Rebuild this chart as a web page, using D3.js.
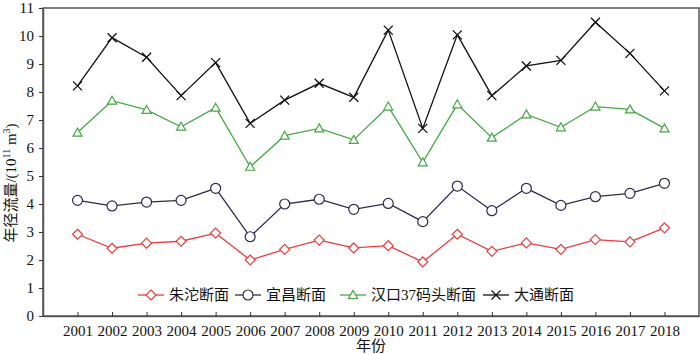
<!DOCTYPE html>
<html>
<head>
<meta charset="utf-8">
<script src="https://cdn.jsdelivr.net/npm/d3@7"></script>
<style>
  body { margin: 0; background: #fff; }
  svg text { font-family: "Liberation Serif", "Times New Roman", Times, "DejaVu Serif", "Noto Sans CJK SC", serif !important; }
</style>
</head>
<body>
<div class="div_chart"></div>
<script>
const years = [2001, 2002, 2003, 2004, 2005, 2006, 2007, 2008, 2009, 2010, 2011, 2012, 2013, 2014, 2015, 2016, 2017, 2018];
const zhutuo = [2.92, 2.42, 2.60, 2.67, 2.96, 2.00, 2.38, 2.71, 2.43, 2.51, 1.93, 2.92, 2.31, 2.61, 2.38, 2.73, 2.65, 3.15];
const yichang = [4.13, 3.93, 4.07, 4.13, 4.56, 2.83, 4.00, 4.17, 3.81, 4.02, 3.37, 4.64, 3.76, 4.56, 3.95, 4.26, 4.38, 4.74];
const hankou = [6.55, 7.69, 7.36, 6.76, 7.44, 5.33, 6.44, 6.70, 6.29, 7.48, 5.49, 7.56, 6.37, 7.20, 6.74, 7.48, 7.38, 6.70];
const datong = [8.22, 9.94, 9.24, 7.87, 9.05, 6.88, 7.71, 8.31, 7.81, 10.21, 6.70, 10.04, 7.87, 8.93, 9.13, 10.49, 9.38, 8.04];
const yTicks = [0, 1, 2, 3, 4, 5, 6, 7, 8, 9, 10, 11];

const series = [
  {name: '朱沱断面', values: zhutuo, color: '#ee3b3b', marker: 'diamond'},
  {name: '宜昌断面', values: yichang, color: '#2e2b4d', marker: 'circle'},
  {name: '汉口37码头断面', values: hankou, color: '#44a844', marker: 'triangle'},
  {name: '大通断面', values: datong, color: '#111111', marker: 'cross'}
];

const width = 700, height = 354;
const margin = {top: 8, right: 1, bottom: 38, left: 43};

const svg = d3.select('.div_chart')
  .append('svg')
    .attr('width', width)
    .attr('height', height);

const x = d3.scaleLinear()
  .domain([2000, 2019])
  .range([margin.left, width - margin.right]);

const y = d3.scaleLinear()
  .domain([0, 11])
  .range([height - margin.bottom, margin.top]);

// frame (top / right)
svg.append('rect')
  .attr('x', margin.left)
  .attr('y', margin.top)
  .attr('width', width - margin.right - margin.left)
  .attr('height', height - margin.bottom - margin.top)
  .attr('fill', 'none')
  .attr('stroke', '#555')
  .attr('stroke-width', 1.5);

const xAxis = g => g
  .attr('transform', `translate(0, ${height - margin.bottom})`)
  .call(d3.axisBottom(x).tickValues(years).tickFormat(d3.format('d')).tickSizeInner(-4).tickSizeOuter(0).tickPadding(9))
  .call(g => g.select('.domain').attr('stroke', '#555').attr('stroke-width', 1.5))
  .call(g => g.selectAll('.tick line').attr('stroke', '#333'))
  .call(g => g.selectAll('.tick text').attr('font-size', 15).attr('fill', '#111'));

const yAxis = g => g
  .attr('transform', `translate(${margin.left}, 0)`)
  .call(d3.axisLeft(y).tickValues(yTicks).tickSizeInner(4).tickSizeOuter(0).tickPadding(5))
  .call(g => g.select('.domain').attr('stroke', '#555').attr('stroke-width', 1.5))
  .call(g => g.selectAll('.tick line').attr('stroke', '#333'))
  .call(g => g.selectAll('.tick text').attr('font-size', 15).attr('fill', '#111'));

svg.append('g').call(xAxis);
svg.append('g').call(yAxis);

// markers
const drawMarker = (g, type, color) => {
  if (type === 'circle') {
    g.append('circle').attr('r', 5).attr('fill', 'white').attr('stroke', color).attr('stroke-width', 1.2);
  } else if (type === 'diamond') {
    g.append('path').attr('d', 'M0,-5L5,0L0,5L-5,0Z').attr('fill', 'white').attr('stroke', color).attr('stroke-width', 1.2);
  } else if (type === 'triangle') {
    g.append('path').attr('d', 'M0,-4.5L4.5,3.5L-4.5,3.5Z').attr('fill', 'white').attr('stroke', color).attr('stroke-width', 1.2);
  } else {
    g.append('path').attr('d', 'M-4.5,-4.5L4.5,4.5M-4.5,4.5L4.5,-4.5').attr('fill', 'none').attr('stroke', color).attr('stroke-width', 1.3);
  }
};

const line = d3.line()
  .x((d, i) => x(years[i]))
  .y(d => y(d));

series.forEach(s => {
  svg.append('path')
    .datum(s.values)
    .attr('fill', 'none')
    .attr('stroke', s.color)
    .attr('stroke-width', 1.3)
    .attr('d', line);

  svg.append('g')
    .selectAll('g')
    .data(s.values)
    .enter()
    .append('g')
    .attr('transform', (d, i) => `translate(${x(years[i])}, ${y(d)})`)
    .each(function() { drawMarker(d3.select(this), s.marker, s.color); });
});

// legend
const legendX = [138, 235, 340, 483];
const legendY = 295;
series.forEach((s, i) => {
  const g = svg.append('g').attr('transform', `translate(${legendX[i]}, ${legendY})`);
  g.append('line')
    .attr('x1', 0).attr('x2', 26)
    .attr('stroke', s.color).attr('stroke-width', 1.3);
  const m = g.append('g').attr('transform', 'translate(13, 0)');
  drawMarker(m, s.marker, s.color);
  g.append('text')
    .attr('x', 31)
    .attr('y', 5)
    .attr('font-size', 15)
    .attr('fill', '#111')
    .text(s.name);
});

// axis titles
svg.append('text')
  .attr('x', (margin.left + width - margin.right) / 2)
  .attr('y', 351)
  .attr('text-anchor', 'middle')
  .attr('font-size', 15)
  .attr('fill', '#111')
  .text('年份');

const yt = svg.append('text')
  .attr('transform', `translate(16, ${y(4.75)}) rotate(-90)`)
  .attr('text-anchor', 'middle')
  .attr('font-size', 15)
  .attr('fill', '#111');
yt.append('tspan').text('年径流量/(10');
yt.append('tspan').attr('dy', -6).attr('font-size', 10).text('11');
yt.append('tspan').attr('dy', 6).text(' m');
yt.append('tspan').attr('dy', -6).attr('font-size', 10).text('3');
yt.append('tspan').attr('dy', 6).text(')');
</script>
</body>
</html>
